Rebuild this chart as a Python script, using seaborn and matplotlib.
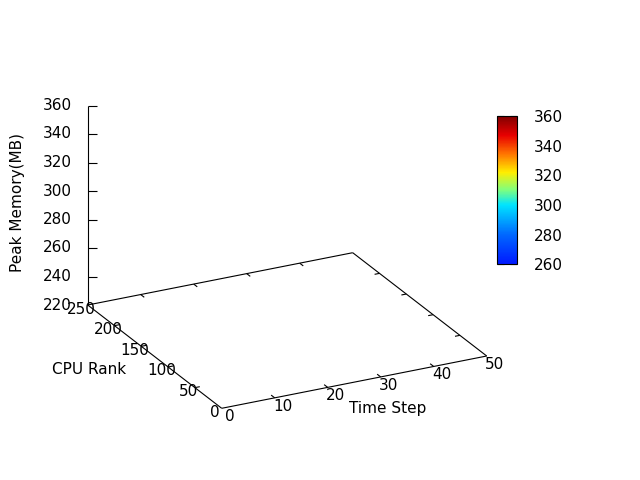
import numpy as np
import matplotlib
matplotlib.use("Agg")
import matplotlib.pyplot as plt
import seaborn as sns
from matplotlib.colors import LinearSegmentedColormap, Normalize
from matplotlib.colorbar import ColorbarBase

# axis ranges and tick values (no surface data is drawn)
time_steps = [0, 10, 20, 30, 40, 50]
cpu_ranks = [0, 50, 100, 150, 200, 250]
mem_ticks = [220, 240, 260, 280, 300, 320, 340, 360]
cb_ticks = [260, 280, 300, 320, 340, 360]
x_range = (0, 50)
y_range = (0, 250)
z_range = (220, 360)
cb_range = (260, 360)

sns.set_theme(style="white")
plt.rcParams['font.family'] = ['DejaVu Sans']
plt.rcParams.update({"text.color": "black", "axes.labelcolor": "black",
                     "xtick.color": "black", "ytick.color": "black"})
FS = 11

fig = plt.figure(figsize=(6.4, 4.8), dpi=100)
ax = fig.add_axes([0, 0, 1, 1])
ax.set_xlim(0, 640)
ax.set_ylim(480, 0)
ax.axis("off")

# simple oblique projection matching the gnuplot view (pixel space)
O = np.array([221.7, 408.3])
ex = np.array([265.0, -52.3]) / (x_range[1] - x_range[0])
ey = np.array([-134.0, -103.3]) / (y_range[1] - y_range[0])
ez = np.array([0.0, -199.5]) / (z_range[1] - z_range[0])


def proj(x, y, z=z_range[0]):
    return O + (x - x_range[0]) * ex + (y - y_range[0]) * ey + (z - z_range[0]) * ez


def seg(p, q, **kw):
    ax.plot([p[0], q[0]], [p[1], q[1]], color="black", lw=0.8,
            solid_capstyle="butt", **kw)


x0, x1 = x_range
y0, y1 = y_range
z0, z1 = z_range

# base rectangle
corners = [proj(x0, y0), proj(x1, y0), proj(x1, y1), proj(x0, y1), proj(x0, y0)]
for a, b in zip(corners[:-1], corners[1:]):
    seg(a, b)

uy = ey / np.linalg.norm(ey)
ux = ex / np.linalg.norm(ex)

# x ticks (front + mirrored back)
for t in time_steps:
    p = proj(t, y0)
    if x0 < t < x1:
        seg(p, p + uy * 4.5)
        q = proj(t, y1)
        seg(q, q - uy * 4.5)
    ax.text(p[0] + 8, p[1] + 8.5, str(t), ha="center", va="center", fontsize=FS)

# y ticks (left + mirrored right)
for t in cpu_ranks:
    p = proj(x0, t)
    if y0 < t < y1:
        seg(p, p + ux * 5)
        q = proj(x1, t)
        seg(q, q - ux * 5)
    ax.text(p[0] - 6.5, p[1] + 4, str(t), ha="center", va="center", fontsize=FS)

# z axis at the left corner
zb = proj(x0, y1, z0)
zt = proj(x0, y1, z1)
seg(zb, zt)
for t in mem_ticks:
    p = proj(x0, y1, t)
    if t > z0:
        seg(p, p + np.array([9, 0]))
    ax.text(72, p[1], str(t), ha="right", va="center", fontsize=FS)

ax.text(18, 202, "Peak Memory(MB)", rotation=90, ha="center", va="center", fontsize=FS)
ax.text(89, 370, "CPU Rank", ha="center", va="center", fontsize=FS)
ax.text(388, 408, "Time Step", ha="center", va="center", fontsize=FS)

# colour box
jet = LinearSegmentedColormap.from_list("gp_jet", [
    (0.0, "#0018ff"), (0.2, "#0068ff"), (0.4, "#00e4ff"), (0.5, "#7dff80"),
    (0.62, "#ffee00"), (0.75, "#ff7000"), (0.87, "#e80000"), (1.0, "#800000")])
cax = fig.add_axes([496.7 / 640, (480 - 264.3) / 480, 20.6 / 640, 148.3 / 480])
cb = ColorbarBase(cax, cmap=jet, norm=Normalize(*cb_range), orientation="vertical")
cb.set_ticks(cb_ticks)
cb.outline.set_linewidth(0.8)
cb.outline.set_edgecolor("black")
cax.tick_params(axis="y", direction="in", length=5, width=0.8, color="black",
                left=True, right=True, labelleft=False, labelright=True,
                labelsize=FS, labelcolor="black", pad=12)
cax.tick_params(axis="x", bottom=False, top=False)

fig.savefig("out.png", dpi=100)
